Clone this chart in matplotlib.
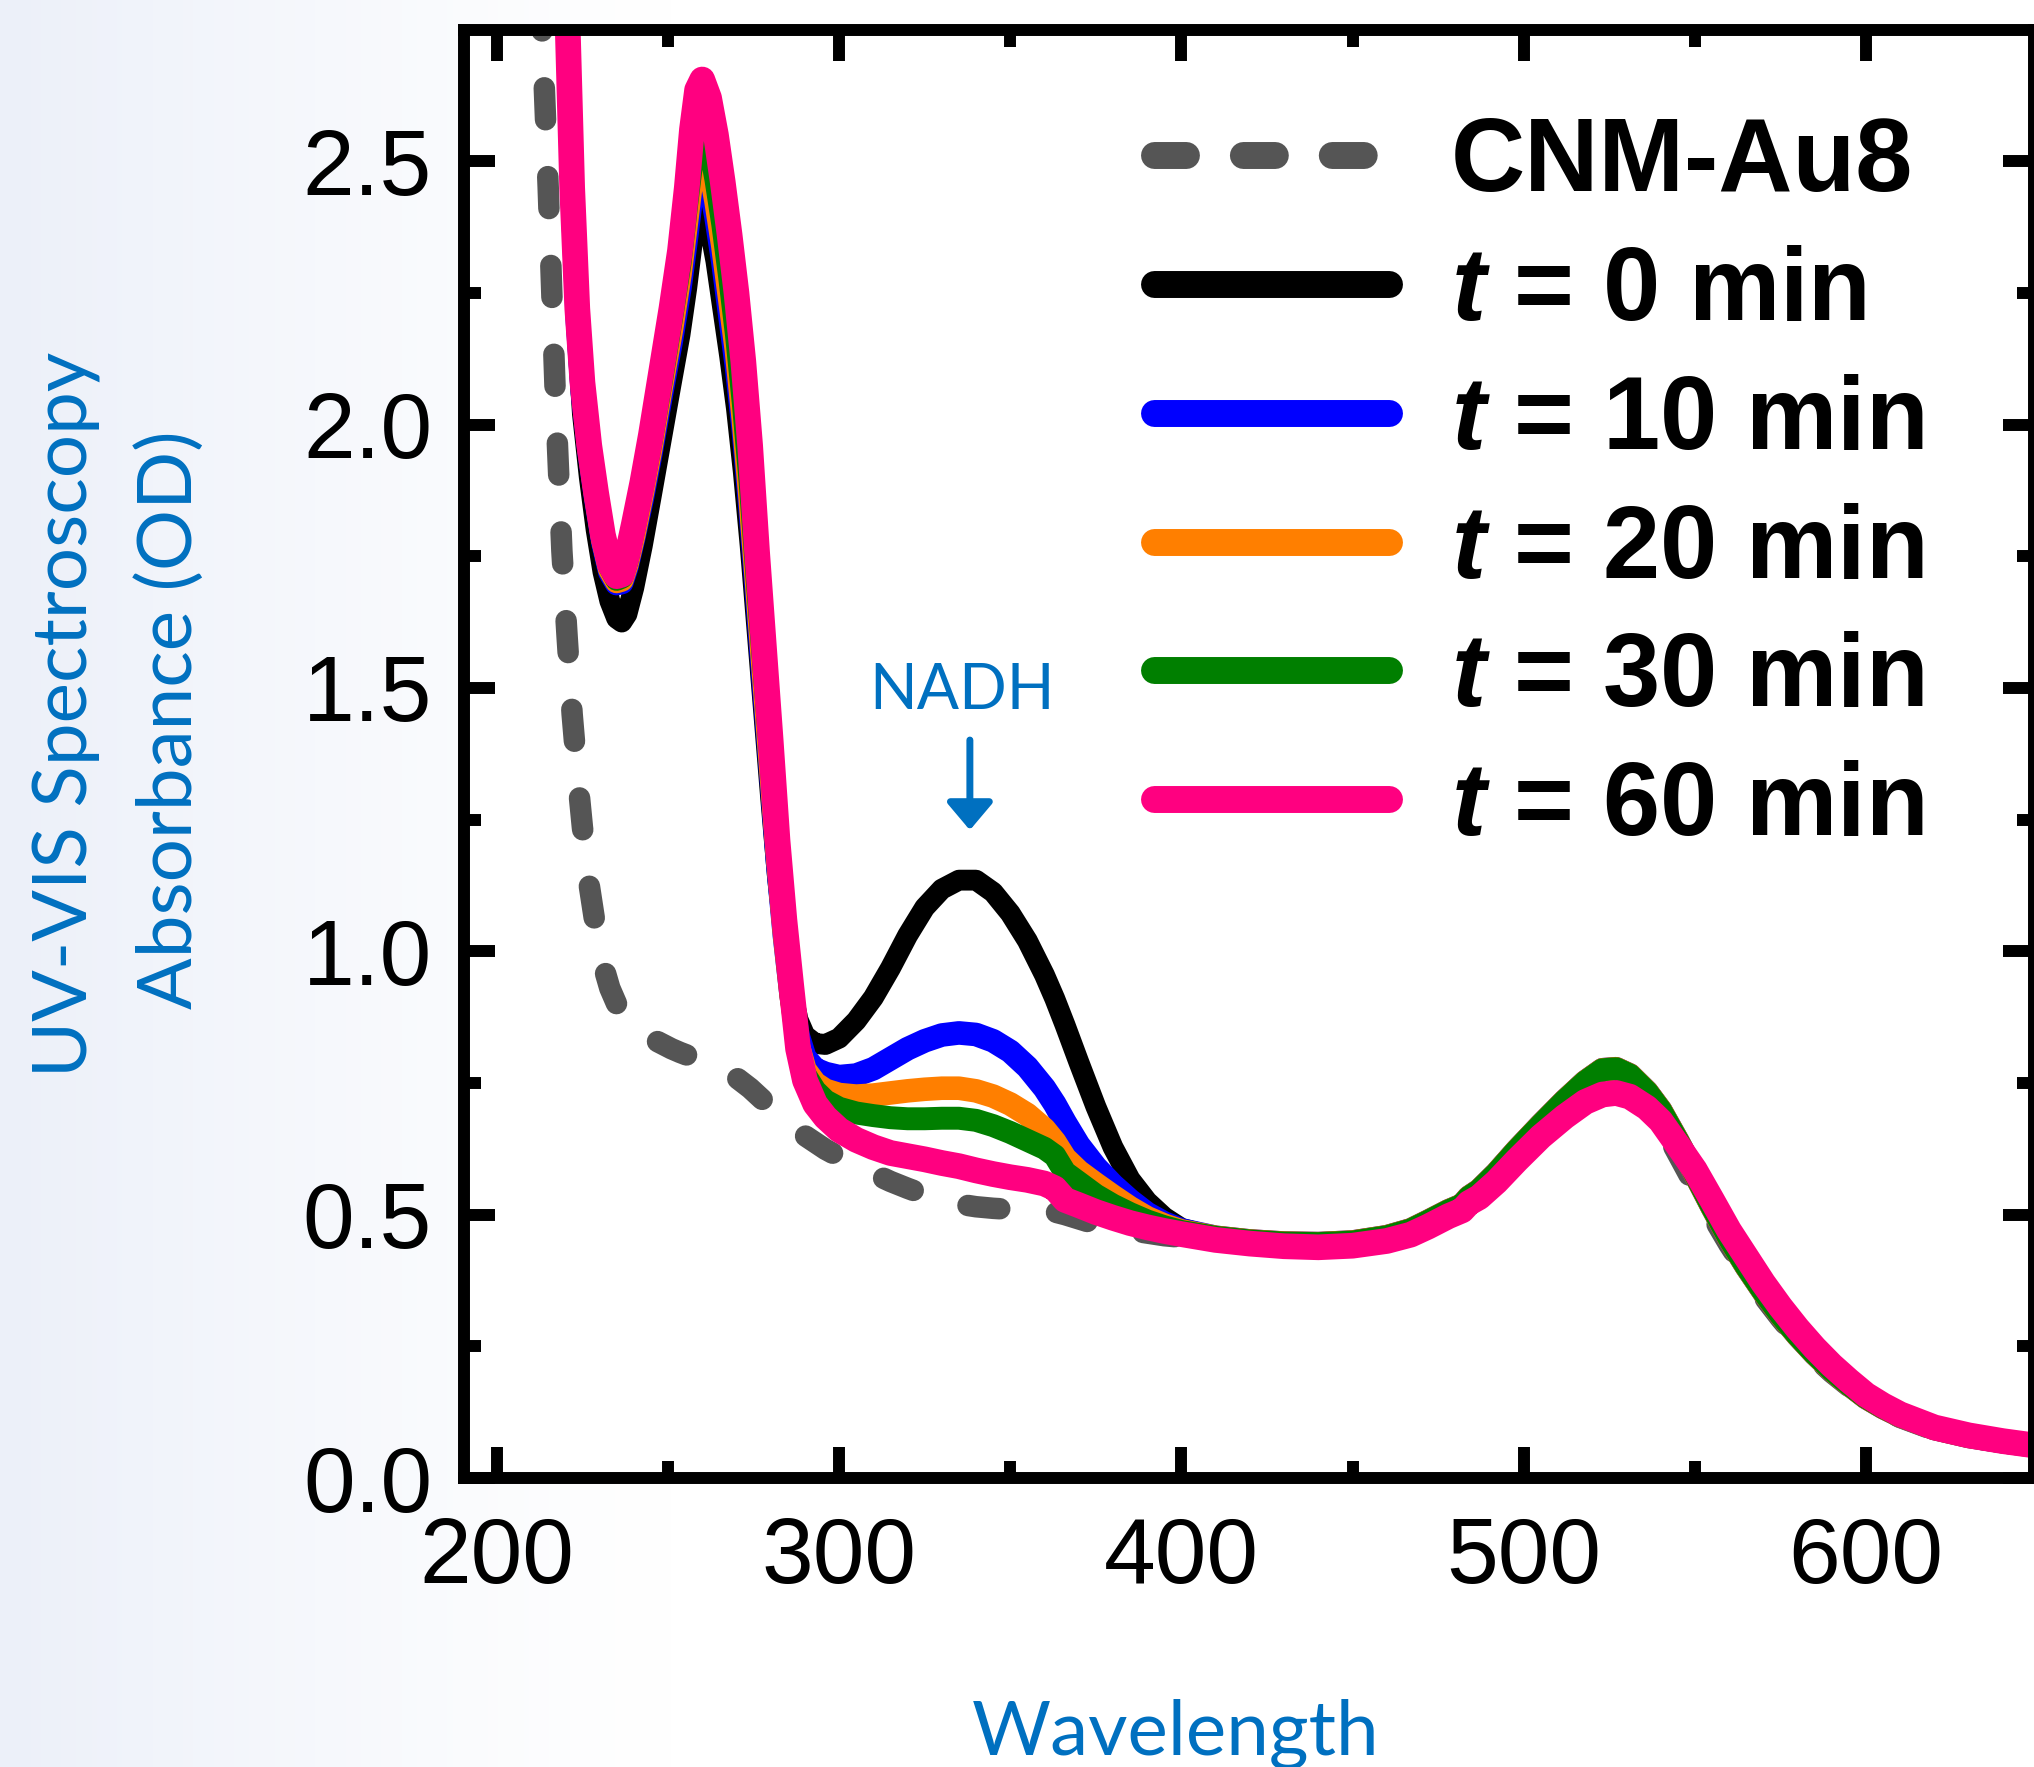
import matplotlib
matplotlib.use("Agg")
import matplotlib.pyplot as plt
import numpy as np
from matplotlib.ticker import MultipleLocator, FixedLocator, FixedFormatter

plt.rcParams['font.family'] = ['Liberation Sans', 'DejaVu Sans']
plt.rcParams['mathtext.fontset'] = 'custom'
plt.rcParams['mathtext.it'] = 'Liberation Sans:italic:bold'
plt.rcParams['mathtext.rm'] = 'Liberation Sans:bold'
plt.rcParams['mathtext.bf'] = 'Liberation Sans:bold'
plt.rcParams['lines.scale_dashes'] = False

# ---------------- data ----------------
wl_uv = [190, 200, 207, 212, 215, 217, 219, 220.5, 222, 223.5,
         225, 227, 229, 231, 233, 235, 236.5, 238, 240, 242.5,
         245, 248, 251, 253.5, 255.5, 257, 258.5, 260, 262, 264,
         266, 268, 270, 272, 274, 276, 278, 280, 282, 284,
         286, 288, 290, 293, 296, 300, 305, 310, 315, 320,
         325, 330, 335, 340, 345, 350, 355, 360, 363, 366,
         370, 375, 380, 385, 390, 395, 400]

abs_cnm_uv = [5.0, 4.3, 3.5, 2.95, 2.45, 2.07, 1.76, 1.60, 1.45, 1.335,
              1.235, 1.125, 1.04, 0.975, 0.93, 0.90, 0.885, 0.872, 0.858, 0.845,
              0.835, 0.825, 0.815, 0.808, 0.803, 0.799, 0.796, 0.793, 0.789, 0.784,
              0.777, 0.769, 0.76, 0.75, 0.74, 0.728, 0.716, 0.704, 0.692, 0.681,
              0.67, 0.66, 0.65, 0.637, 0.624, 0.61, 0.593, 0.578, 0.563, 0.55,
              0.538, 0.528, 0.52, 0.515, 0.512, 0.51, 0.509, 0.507, 0.505, 0.50,
              0.492, 0.482, 0.475, 0.47, 0.465, 0.46, 0.457]

abs_t0_uv = [5.0, 4.6, 4.0, 3.5, 3.2, 3.0, 2.9, 2.78, 2.42, 2.17,
             2.02, 1.90, 1.80, 1.72, 1.665, 1.632, 1.625, 1.64, 1.69, 1.77,
             1.86, 1.97, 2.08, 2.17, 2.26, 2.34, 2.40, 2.415, 2.38, 2.31,
             2.22, 2.13, 2.03, 1.91, 1.77, 1.61, 1.45, 1.29, 1.14, 1.02,
             0.93, 0.87, 0.84, 0.825, 0.823, 0.835, 0.868, 0.912, 0.968, 1.03,
             1.083, 1.118, 1.135, 1.135, 1.112, 1.072, 1.02, 0.955, 0.91, 0.86,
             0.79, 0.705, 0.628, 0.567, 0.525, 0.495, 0.474]

abs_t10_uv = [5.0, 4.6, 4.0, 3.5, 3.2, 3.0, 2.9, 2.79, 2.44, 2.20,
              2.06, 1.945, 1.855, 1.775, 1.72, 1.698, 1.70, 1.73, 1.785, 1.86,
              1.945, 2.055, 2.16, 2.26, 2.36, 2.44, 2.49, 2.50, 2.465, 2.395,
              2.31, 2.21, 2.11, 1.99, 1.84, 1.67, 1.50, 1.34, 1.17, 1.03,
              0.915, 0.84, 0.798, 0.776, 0.768, 0.762, 0.765, 0.777, 0.796, 0.815,
              0.83, 0.841, 0.845, 0.842, 0.83, 0.81, 0.78, 0.74, 0.71, 0.675,
              0.632, 0.59, 0.556, 0.527, 0.502, 0.484, 0.471]

abs_t20_uv = [5.0, 4.6, 4.0, 3.5, 3.2, 3.0, 2.9, 2.79, 2.44, 2.21,
              2.07, 1.95, 1.86, 1.78, 1.725, 1.702, 1.705, 1.735, 1.79, 1.87,
              1.955, 2.07, 2.18, 2.285, 2.39, 2.47, 2.52, 2.53, 2.495, 2.425,
              2.34, 2.24, 2.14, 2.01, 1.86, 1.69, 1.52, 1.35, 1.18, 1.035,
              0.915, 0.822, 0.775, 0.749, 0.736, 0.728, 0.725, 0.727, 0.731, 0.735,
              0.738, 0.74, 0.74, 0.735, 0.725, 0.71, 0.69, 0.662, 0.638, 0.607,
              0.582, 0.558, 0.535, 0.513, 0.494, 0.48, 0.469]

abs_t30_uv = [5.0, 4.6, 4.0, 3.5, 3.2, 3.0, 2.9, 2.80, 2.45, 2.21,
              2.075, 1.955, 1.865, 1.785, 1.73, 1.706, 1.71, 1.74, 1.80, 1.88,
              1.965, 2.08, 2.20, 2.305, 2.42, 2.50, 2.56, 2.57, 2.535, 2.465,
              2.38, 2.28, 2.17, 2.04, 1.89, 1.71, 1.54, 1.37, 1.19, 1.04,
              0.915, 0.815, 0.766, 0.735, 0.716, 0.702, 0.693, 0.688, 0.684, 0.682,
              0.682, 0.683, 0.683, 0.679, 0.669, 0.656, 0.641, 0.626, 0.612, 0.58,
              0.561, 0.537, 0.518, 0.502, 0.488, 0.477, 0.468]

abs_t60_uv = [5.0, 4.6, 4.0, 3.5, 3.2, 3.0, 2.9, 2.80, 2.45, 2.22,
              2.08, 1.96, 1.87, 1.79, 1.735, 1.712, 1.715, 1.75, 1.81, 1.89,
              1.98, 2.10, 2.22, 2.33, 2.45, 2.56, 2.635, 2.655, 2.62, 2.55,
              2.46, 2.36, 2.25, 2.12, 1.96, 1.76, 1.58, 1.40, 1.21, 1.06,
              0.935, 0.815, 0.755, 0.71, 0.685, 0.661, 0.642, 0.628, 0.617, 0.611,
              0.605, 0.598, 0.592, 0.584, 0.577, 0.571, 0.566, 0.559, 0.55, 0.528,
              0.518, 0.505, 0.494, 0.484, 0.476, 0.469, 0.463]

wl_vis = [410, 420, 430, 440, 450, 460, 467, 472, 478, 482,
          484, 487, 492, 498, 505, 512, 518, 523, 527, 531,
          536, 540, 545, 550, 555, 560, 565, 570, 575, 580,
          585, 590, 595, 600, 605, 610, 620, 630, 640, 649]

abs_cnm_vis = [0.45, 0.443, 0.44, 0.44, 0.443, 0.452, 0.465, 0.48, 0.50, 0.512,
               0.526, 0.538, 0.568, 0.61, 0.655, 0.70, 0.735, 0.755, 0.757, 0.745,
               0.71, 0.675, 0.615, 0.555, 0.498, 0.443, 0.393, 0.345, 0.303, 0.264,
               0.23, 0.2, 0.174, 0.15, 0.131, 0.115, 0.091, 0.077, 0.067, 0.059]

abs_timed_vis = [0.457, 0.450, 0.446, 0.445, 0.448, 0.458, 0.471, 0.487, 0.507, 0.518,
                 0.533, 0.546, 0.578, 0.622, 0.67, 0.716, 0.752, 0.775, 0.777, 0.765,
                 0.733, 0.698, 0.64, 0.578, 0.515, 0.455, 0.402, 0.354, 0.31, 0.271,
                 0.236, 0.205, 0.178, 0.153, 0.134, 0.118, 0.094, 0.079, 0.069, 0.061]

abs_t60_vis = [0.452, 0.445, 0.440, 0.438, 0.441, 0.450, 0.462, 0.477, 0.497, 0.508,
               0.522, 0.533, 0.562, 0.603, 0.648, 0.686, 0.714, 0.728, 0.731, 0.724,
               0.703, 0.678, 0.632, 0.585, 0.528, 0.47, 0.42, 0.37, 0.325, 0.284,
               0.247, 0.214, 0.185, 0.158, 0.138, 0.121, 0.096, 0.081, 0.07, 0.062]

series_labels = ['CNM-Au8', '$t$ = 0 min', '$t$ = 10 min', '$t$ = 20 min',
                 '$t$ = 30 min', '$t$ = 60 min']
xtick_values = [200, 300, 400, 500, 600]
ytick_values = [0.0, 0.5, 1.0, 1.5, 2.0, 2.5]
ytick_labels = ['0.0', '0.5', '1.0', '1.5', '2.0', '2.5']

# ---------------- figure ----------------
W, H, DPI = 2034, 1767, 100
fig = plt.figure(figsize=(W / DPI, H / DPI), dpi=DPI)
fig.patch.set_facecolor('white')

# faint bluish background on the left
bg = fig.add_axes([0, 0, 1, 1], zorder=-5)
bg.set_axis_off()
xs = np.linspace(0, 1, 400)
tt = np.clip(1 - xs / 0.33, 0, 1) ** 1.2
tint = np.array([236, 240, 249]) / 255.0
img = np.ones((2, 400, 3))
img[:] = 1 - tt[None, :, None] * (1 - tint)
bg.imshow(img, aspect='auto', extent=[0, 1, 0, 1])

ax = fig.add_axes([464 / W, 1 - 1478 / H, (W - 464) / W, (1478 - 30) / H])
ax.set_facecolor('white')

wl = wl_uv + wl_vis
styles = [
    dict(y=abs_cnm_uv + abs_cnm_vis, color='#555555', lw=15.5, ls=(0, (23, 41))),
    dict(y=abs_t0_uv + abs_timed_vis, color='black', lw=15, ls='-'),
    dict(y=abs_t10_uv + abs_timed_vis, color='#0000FF', lw=17, ls='-'),
    dict(y=abs_t20_uv + abs_timed_vis, color='#FF7F00', lw=17, ls='-'),
    dict(y=abs_t30_uv + abs_timed_vis, color='#007F00', lw=16.5, ls='-'),
    dict(y=abs_t60_uv + abs_t60_vis, color='#FF0080', lw=18.5, ls='-'),
]
handles = []
for st, lab in zip(styles, series_labels):
    ln, = ax.plot(wl, st['y'], color=st['color'], lw=st['lw'], linestyle=st['ls'],
                  solid_capstyle='round', dash_capstyle='round',
                  solid_joinstyle='round', label=lab)
    handles.append(ln)

ax.set_xlim(190.4, 649.1)
ax.set_ylim(0, 2.749)

for sp in ax.spines.values():
    sp.set_linewidth(8.6)
ax.xaxis.set_major_locator(FixedLocator(xtick_values))
ax.xaxis.set_minor_locator(MultipleLocator(50))
ax.yaxis.set_major_locator(FixedLocator(ytick_values))
ax.yaxis.set_major_formatter(FixedFormatter(ytick_labels))
ax.yaxis.set_minor_locator(MultipleLocator(0.25))
ax.tick_params(which='both', direction='in', top=True, right=True, width=8.6)
ax.tick_params(which='major', length=22, labelsize=67)
ax.tick_params(which='minor', length=12)
ax.tick_params(axis='x', which='major', pad=27)
ax.tick_params(axis='y', which='major', pad=23)

leg = ax.legend(handles=handles, loc='upper left',
                bbox_to_anchor=(1153.5 / W, 1 - 116 / H),
                bbox_transform=fig.transFigure, frameon=False,
                prop=dict(family='Liberation Sans', weight='bold', size=74),
                handlelength=2.29, handletextpad=0.6, labelspacing=0.31,
                borderpad=0, borderaxespad=0)
for l in leg.get_lines():
    l.set_linewidth(19.4)

# NADH annotation
blue_txt = '#0070C0'
ax.text(335.9, 1.46, 'NADH', family='Lato', fontsize=45, color=blue_txt,
        ha='center', va='baseline')
ax.annotate('', xy=(338.2, 1.23), xytext=(338.2, 1.401),
            arrowprops=dict(arrowstyle='-|>,head_length=0.83,head_width=0.7',
                            color=blue_txt, lw=5, shrinkA=0, shrinkB=0,
                            mutation_scale=20))

# axis titles
fig.text(1176 / W, 1 - 1755 / H, 'Wavelength', family='Lato', fontsize=55,
         color=blue_txt, ha='center', va='baseline')
fig.text(88 / W, 1 - 714 / H, 'UV-VIS Spectroscopy', family='Lato', fontsize=55,
         color=blue_txt, rotation=90, rotation_mode='anchor',
         ha='center', va='baseline')
fig.text(192 / W, 1 - 720 / H, 'Absorbance (OD)', family='Lato', fontsize=55,
         color=blue_txt, rotation=90, rotation_mode='anchor',
         ha='center', va='baseline')

fig.savefig('out.png', dpi=DPI, facecolor='white')
